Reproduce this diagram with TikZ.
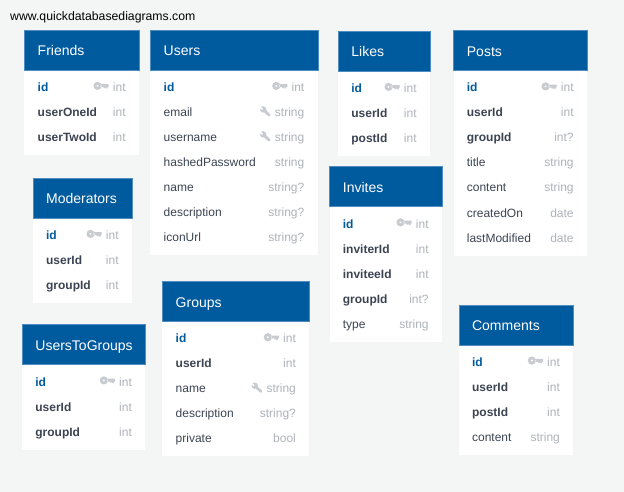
\documentclass[tikz,border=0pt]{standalone}
\usepackage{fontspec}
\setmainfont{Liberation Sans}
\definecolor{bgc}{HTML}{F4F6F6}
\definecolor{hdrc}{HTML}{005A9E}
\definecolor{edgec}{HTML}{4F8DC0}
\definecolor{txtc}{HTML}{3C4452}
\definecolor{typec}{HTML}{AEB3BA}
\definecolor{iconc}{HTML}{C8CCD1}
\tikzset{
  x=1pt,y=-1pt,
  tablehdr/.style={draw=edgec,line width=.35pt,fill=hdrc,rectangle,inner sep=0,outer sep=0,anchor=north west},
  tablebody/.style={fill=white,rectangle,inner sep=0,outer sep=0,anchor=north west},
  titletxt/.style={text=white,font=\fontsize{14}{14}\selectfont,inner sep=0,anchor=base west},
  pk/.style={text=hdrc,font=\fontsize{12}{12}\selectfont\bfseries,inner sep=0,anchor=base west},
  fk/.style={text=txtc,font=\fontsize{12}{12}\selectfont\bfseries,inner sep=0,anchor=base west},
  pl/.style={text=txtc,font=\fontsize{12}{12}\selectfont,inner sep=0,anchor=base west},
  typetxt/.style={text=typec,font=\fontsize{12}{12}\selectfont,inner sep=0,anchor=base east},
}
% icons: #1 is the point at the icon's right end, on the row's centre line
\newcommand{\iconK}[1]{\fill[iconc,even odd rule,shift={(#1)},xshift=-4pt]
  (-11.2,-.6) circle[radius=4.1] (-11.2,-.6) circle[radius=1.3]
  (-8,-2.3) -- (0,-2.3) -- (0,.6) -- (-1.2,.6) -- (-1.2,2) -- (-2.8,2) -- (-2.8,.6) -- (-3.4,.6) -- (-3.4,1.6) -- (-5,1.6) -- (-5,.6) -- (-8,.6) -- cycle;}
\newcommand{\iconW}[1]{\begin{scope}[shift={(#1)},xshift=-4pt]
  \fill[iconc] (-7.6,-2.1) circle[radius=3.2];
  \draw[iconc,line width=2.8pt,line cap=round] (-7,-1.5) -- (-1.5,3.7);
  \fill[white] (-10.6,-5.2) -- (-7.8,-2.6) -- (-8.8,-1.7) -- (-11.4,-3.6) -- cycle;
  \end{scope}}
\newcommand{\iconN}[1]{}
% #1 name, #2 x1, #3 x2, #4 y1, #5 body height, #6 rows
\newcommand{\dbtable}[6]{%
  \pgfmathsetmacro{\tW}{#3-#2}
  \node[tablebody,minimum width=\tW pt,minimum height=#5pt] (#1-body) at (#2,#4) {};
  \node[tablehdr,minimum width=\tW pt,minimum height=40pt] (#1-hdr) at (#2,#4) {};
  \pgfmathsetmacro{\tB}{#4+25.8}
  \pgfmathsetmacro{\tX}{#2+13.2}
  \node[titletxt] (#1-title) at (\tX,\tB) {#1};
  \foreach \nm/\st/\ty/\ic [count=\c] in {#6} {
    \pgfmathsetmacro{\rC}{#4+56.5+25*(\c-1)}
    \pgfmathsetmacro{\rB}{\rC+5}
    \pgfmathsetmacro{\rX}{#3-13.2}
    \node[\st] (#1-n\c) at (\tX,\rB) {\nm};
    \node[typetxt] (#1-t\c) at (\rX,\rB) {\ty};
    \coordinate (#1-i\c) at (#1-t\c.west |- \rX,\rC);
    \csname icon\ic\endcsname{#1-i\c}
  }
}
\begin{document}
\begin{tikzpicture}
\useasboundingbox (0,0) rectangle (624,492);
\fill[bgc] (0,0) rectangle (624,492);
\node[inner sep=0,anchor=base west,font=\fontsize{12.25}{12}\selectfont,text=black] (site) at (10,20.5) {www.quickdatabasediagrams.com};
\dbtable{Friends}{24.3}{139}{30}{125}{id/pk/int/K,userOneId/fk/int/N,userTwoId/fk/int/N}
\dbtable{Users}{150.3}{317.7}{30}{225}{id/pk/int/K,email/pl/string/W,username/pl/string/W,hashedPassword/pl/string/N,name/pl/string?/N,description/pl/string?/N,iconUrl/pl/string?/N}
\dbtable{Likes}{338}{430}{31}{125}{id/pk/int/K,userId/fk/int/N,postId/fk/int/N}
\dbtable{Posts}{453.5}{587}{30.5}{225}{id/pk/int/K,userId/fk/int/N,groupId/fk/int?/N,title/pl/string/N,content/pl/string/N,createdOn/pl/date/N,lastModified/pl/date/N}
\dbtable{Moderators}{32.7}{132}{178}{125}{id/pk/int/K,userId/fk/int/N,groupId/fk/int/N}
\dbtable{Invites}{329.5}{442}{166.5}{175}{id/pk/int/K,inviterId/fk/int/N,inviteeId/fk/int/N,groupId/fk/int?/N,type/pl/string/N}
\dbtable{Groups}{162.3}{309.3}{281.3}{175}{id/pk/int/K,userId/fk/int/N,name/pl/string/W,description/pl/string?/N,private/pl/bool/N}
\dbtable{Comments}{458.7}{573.3}{304.7}{150}{id/pk/int/K,userId/fk/int/N,postId/fk/int/N,content/pl/string/N}
\dbtable{UsersToGroups}{22}{145.3}{324.5}{125}{id/pk/int/K,userId/fk/int/N,groupId/fk/int/N}
\end{tikzpicture}
\end{document}
